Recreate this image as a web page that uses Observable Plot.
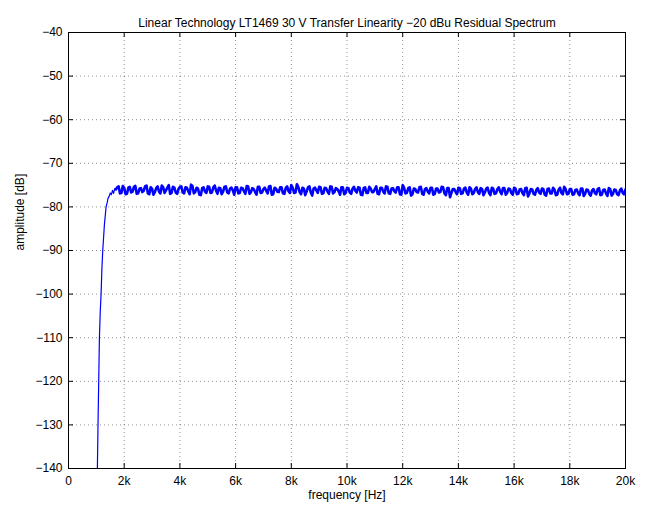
<!DOCTYPE html>
<html>
<head>
<meta charset="utf-8">
<script src="https://cdn.jsdelivr.net/npm/d3@7"></script>
<script src="https://cdn.jsdelivr.net/npm/@observablehq/plot@0.6"></script>
<style>
  html, body { margin: 0; padding: 0; background: #fff; }
</style>
</head>
<body>
<div id="chart"></div>
<script>
const titleText = "Linear Technology LT1469 30 V Transfer Linearity \u221220 dBu Residual Spectrum";
const xLabel = "frequency [Hz]";
const yLabel = "amplitude [dB]";

const xTicks = [0, 2000, 4000, 6000, 8000, 10000, 12000, 14000, 16000, 18000, 20000];
const xTickLabels = ["0", "2k", "4k", "6k", "8k", "10k", "12k", "14k", "16k", "18k", "20k"];
const yTicks = [-140, -130, -120, -110, -100, -90, -80, -70, -60, -50, -40];

// Rising edge (high-pass region)
const riseFreq = [1025, 1060, 1085, 1110, 1140, 1170, 1200, 1230, 1260, 1290, 1320, 1350, 1390, 1420, 1460, 1500, 1540, 1580, 1620, 1660, 1700];
const riseAmp  = [-145, -130, -120, -110, -104, -100, -94, -90, -87, -84, -82, -80, -79, -78, -77.6, -76.8, -77.2, -76.2, -76.9, -75.8, -76.0];

// Plateau: residual spectrum bins, 1.7 kHz .. 20 kHz (100 Hz grid)
const plateauStart = 1700;
const plateauStep = 100;
const plateauAmp = [
  -76.0,-75.3,-76.8,-75.6,-77.0,-75.4,-76.5,-75.2,-76.9,-75.7,-76.3,-75.1,-77.1,-75.8,-76.6,-75.3,-76.9,-75.5,-76.2,-75.0,-76.8,-75.6,-77.0,-75.4,
  -76.7,-75.5,-76.4,-74.9,-76.9,-75.6,-77.2,-75.7,-76.5,-75.3,-76.8,-75.5,-76.3,-75.6,-77.1,-75.4,-76.7,-75.8,-76.2,-75.5,
  -76.9,-75.6,-76.4,-75.2,-77.0,-75.7,-76.6,-75.4,-76.8,-75.9,-76.3,-75.3,-77.2,-75.6,-76.5,-75.5,-76.9,-75.7,-76.4,-75.0,
  -76.8,-74.8,-76.6,-75.6,-77.3,-75.5,-76.7,-75.8,-76.2,-75.4,-77.0,-75.6,-76.5,-75.3,-76.9,-75.7,-76.4,-75.5,-77.1,-75.6,
  -76.7,-75.8,-76.3,-75.5,-77.2,-75.7,-76.8,-75.4,-76.6,-75.9,-77.0,-75.6,-76.5,-75.3,-76.9,-75.8,-76.4,-75.5,-77.1,-75.0,
  -76.9,-75.7,-77.4,-75.8,-76.6,-75.5,-77.0,-75.9,-76.5,-75.6,-77.2,-75.8,-76.7,-75.4,-76.9,-75.7,-77.8,-75.9,-76.6,-75.6,
  -77.0,-75.8,-76.7,-75.5,-77.1,-75.9,-76.6,-75.7,-77.3,-75.8,-76.8,-75.6,-77.0,-75.9,-76.5,-75.7,-77.2,-75.8,-76.8,-75.6,
  -77.1,-76.0,-76.8,-75.7,-77.6,-75.9,-77.0,-76.1,-76.7,-75.8,-77.2,-75.9,-76.9,-75.6,-77.3,-76.0,-76.8,-75.4,-77.1,-75.9,
  -77.2,-76.1,-76.9,-75.8,-77.5,-76.0,-77.0,-76.2,-76.8,-75.9,-77.3,-76.1,-76.9,-75.7,-77.4,-76.0,-77.1,-76.2,-76.8,-76.0
];
// Interleaved bins, 1.75 kHz .. 19.95 kHz (offset by 50 Hz)
const plateauStart2 = 1750;
const plateauAmp2 = [
  -75.5,-76.9,-75.2,-77.1,-75.6,-76.7,-75.4,-77.0,-75.8,-76.6,-75.3,-76.9,-75.5,-77.2,-75.7,-76.5,-75.1,-76.8,-75.6,-77.0,-75.4,-76.7,-75.9,
  -75.3,-76.9,-75.6,-77.1,-75.2,-76.6,-75.8,-77.3,-75.5,-76.8,-75.4,-76.7,-75.1,-77.0,-75.7,-76.5,-75.3,-76.9,-75.6,-77.2,
  -75.5,-76.8,-75.7,-77.0,-75.3,-76.6,-75.9,-77.2,-75.4,-76.7,-75.6,-76.9,-75.2,-77.1,-75.8,-76.6,-75.5,-77.0,-75.3,-76.8,
  -75.6,-76.7,-75.4,-77.1,-75.8,-76.5,-75.3,-77.4,-75.6,-76.8,-75.5,-76.9,-75.7,-77.0,-75.4,-76.6,-75.9,-77.2,-75.5,-76.8,
  -75.7,-77.0,-75.4,-76.7,-75.6,-77.3,-75.5,-76.8,-75.8,-76.6,-75.3,-77.1,-75.6,-76.9,-75.4,-77.0,-75.7,-76.7,-75.5,-77.2,
  -75.6,-76.8,-75.5,-77.1,-75.9,-76.7,-75.4,-77.2,-75.7,-76.9,-75.6,-77.0,-75.8,-76.6,-75.5,-77.3,-75.7,-76.8,-75.9,-77.1,
  -75.7,-76.9,-75.6,-77.2,-75.8,-76.8,-75.5,-77.0,-75.9,-76.7,-75.6,-77.3,-75.8,-76.9,-75.5,-77.1,-75.7,-76.8,-75.9,-77.2,
  -75.8,-77.0,-75.9,-77.3,-75.6,-76.9,-76.0,-77.2,-75.7,-77.0,-75.9,-77.4,-75.8,-76.9,-76.0,-77.2,-75.6,-77.1,-75.9,-77.0,
  -75.9,-77.1,-76.0,-77.3,-75.8,-77.0,-76.1,-77.4,-75.9,-77.1,-75.7,-77.2,-76.0,-77.5,-75.9,-77.0,-76.1,-77.3,-75.8,-77.1
];

const rise = riseFreq.map((f, i) => ({f, a: riseAmp[i]}));
const plateau = [];
plateauAmp.forEach((a, i) => {
  plateau.push({f: plateauStart + i * plateauStep, a});
  if (i < plateauAmp2.length) plateau.push({f: plateauStart2 + i * plateauStep, a: plateauAmp2[i]});
});

const W = 652, H = 507;
const mL = 68, mR = 27, mT = 32, mB = 39;
const pw = W - mL - mR, ph = H - mT - mB;
const tick = 5;
const gridX = xTicks.slice(1, -1);
const gridY = yTicks.slice(1, -1);
const grid = {stroke: "#000", strokeOpacity: 0.55, strokeWidth: 0.8, strokeDasharray: "1,3"};

const chart = Plot.plot({
  width: W, height: H,
  marginLeft: mL, marginRight: mR, marginTop: mT, marginBottom: mB,
  style: {fontFamily: "'Liberation Sans', Arial, Helvetica, sans-serif", fontSize: "12px", background: "#fff", color: "#000"},
  x: {domain: [0, 20000]},
  y: {domain: [-140, -40]},
  marks: [
    Plot.ruleX(gridX, {x: d => d, ...grid}),
    Plot.ruleY(gridY, {y: d => d, ...grid}),
    Plot.line(rise, {x: "f", y: "a", stroke: "#0000ff", strokeWidth: 1.2, clip: true}),
    Plot.line(plateau, {x: "f", y: "a", stroke: "#0000ff", strokeWidth: 2.6, clip: true}),
    Plot.frame({stroke: "#000", strokeWidth: 1}),
    Plot.tickX(xTicks, {x: d => d, insetTop: ph - tick, stroke: "#000"}),
    Plot.tickX(xTicks, {x: d => d, insetBottom: ph - tick, stroke: "#000"}),
    Plot.tickY(yTicks, {y: d => d, insetRight: pw - tick, stroke: "#000"}),
    Plot.tickY(yTicks, {y: d => d, insetLeft: pw - tick, stroke: "#000"}),
    Plot.axisX({ticks: xTicks, tickFormat: (d) => xTickLabels[xTicks.indexOf(d)], tickSize: 0, tickPadding: 8, label: null}),
    Plot.axisY({ticks: yTicks, tickSize: 0, tickPadding: 6, label: null}),
    Plot.text([titleText], {frameAnchor: "top", dy: -14, fontSize: 12, fill: "#000"}),
    Plot.text([xLabel], {frameAnchor: "bottom", dy: 30, fontSize: 12, fill: "#000"}),
    Plot.text([yLabel], {frameAnchor: "left", dx: -48, rotate: -90, fontSize: 12, fill: "#000"})
  ]
});
document.getElementById("chart").appendChild(chart);
</script>
</body>
</html>
